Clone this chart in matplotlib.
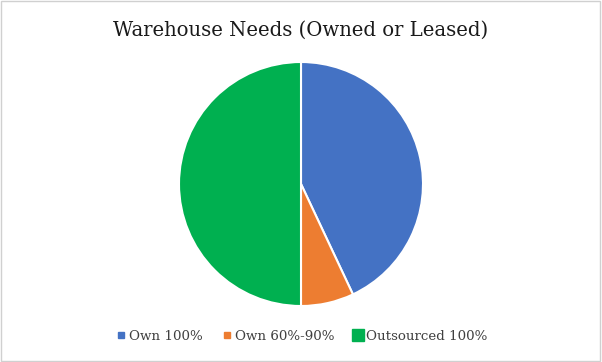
import matplotlib.pyplot as plt
from matplotlib.lines import Line2D
from matplotlib.patches import Rectangle

labels = ['Own 100%', 'Own 60%-90%', 'Outsourced 100%']
values = [43, 7, 50]
colors = ['#4472C4', '#ED7D31', '#00B050']

plt.rcParams['font.family'] = ['DejaVu Serif']

fig = plt.figure(figsize=(6.02, 3.62), dpi=100)
fig.patches.append(Rectangle((0.002, 0.003), 0.995, 0.994, transform=fig.transFigure,
                             fill=False, edgecolor='#D0D0D0', linewidth=1))

ax = fig.add_axes([179 / 602, 56 / 362, 244 / 602, 244 / 362])
ax.pie(values, colors=colors, startangle=90, counterclock=False,
       wedgeprops=dict(edgecolor='white', linewidth=1.5))
ax.set_xlim(-1, 1)
ax.set_ylim(-1, 1)
ax.set_aspect('equal')

fig.text(0.5, 0.915, 'Warehouse Needs (Owned or Leased)', ha='center', va='center',
         fontsize=14.1, color='#1a1a1a')

sizes = [4, 4, 9]
handles = [Line2D([], [], marker='s', linestyle='', markersize=s, color=c)
           for s, c in zip(sizes, colors)]
fig.legend(handles, labels, loc='center', bbox_to_anchor=(0.5, 0.07), ncol=3,
           frameon=False, fontsize=9.6, handletextpad=0.1, columnspacing=1.3,
           handlelength=1.0, labelcolor='#404040')

fig.savefig('out.png', dpi=100)
